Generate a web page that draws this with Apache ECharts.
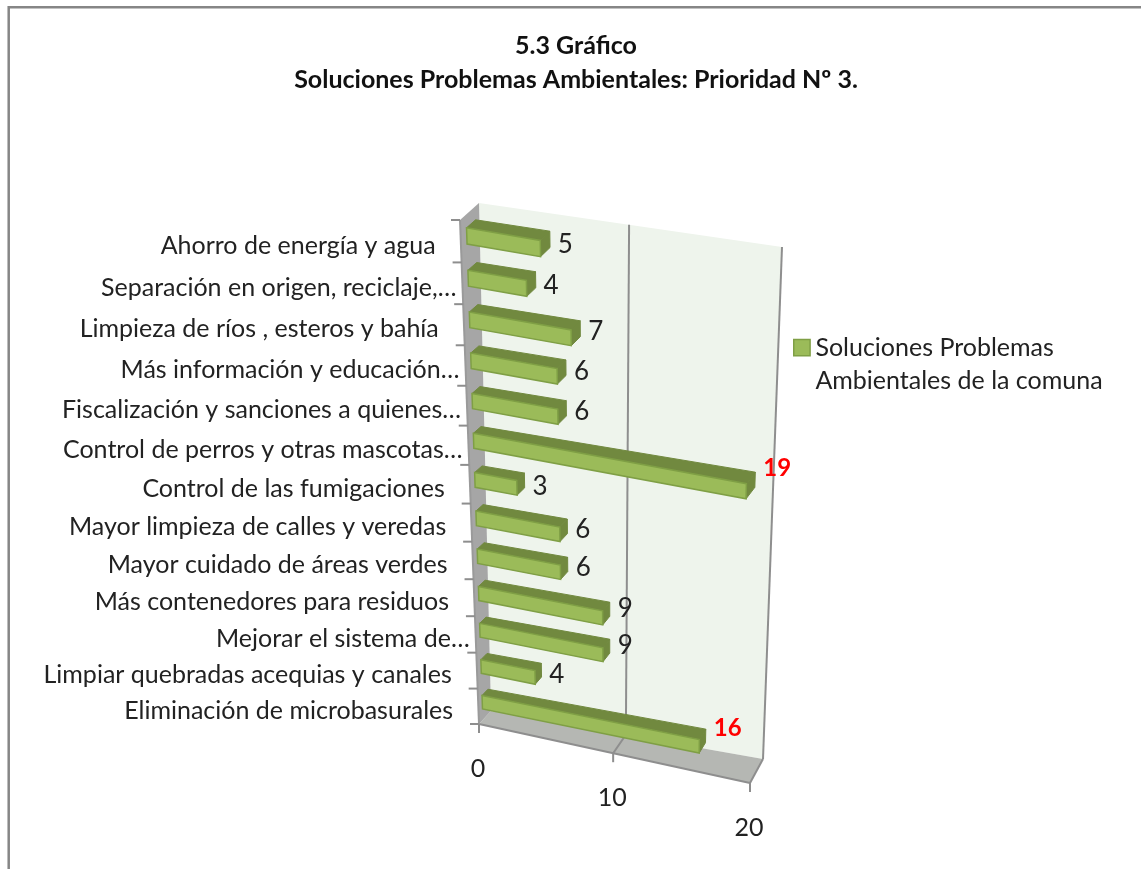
<!DOCTYPE html>
<html><head><meta charset="utf-8">
<style>html,body{margin:0;padding:0;background:#fff}#c{width:1141px;height:869px}</style>
<script src="https://cdn.jsdelivr.net/npm/echarts@6/dist/echarts.min.js"></script>
</head><body><div id="c"></div>
<script>
const categories = [
 "Ahorro de energía y agua   ","Separación en origen, reciclaje,…","Limpieza de ríos , esteros y bahía   ",
 "Más información y educación…","Fiscalización y sanciones a quienes…","Control de perros y otras mascotas…",
 "Control de las fumigaciones   ","Mayor limpieza de calles y veredas   ","Mayor cuidado de áreas verdes   ",
 "Más contenedores para residuos   ","Mejorar el sistema de…","Limpiar quebradas acequias y canales   ","Eliminación de microbasurales   "];
const values = [5,4,7,6,6,19,3,6,6,9,9,4,16];
const valueTicks = [0,10,20];
const highlightAbove = 10;
const seriesName = "Soluciones Problemas\nAmbientales de la comuna";
const titleText = "5.3 Gráfico\nSoluciones Problemas Ambientales: Prioridad Nº 3.";

// perspective frame: front and back planes of the 3D box
const FRONT = [[460,220],[759,274],[750,783],[479,724]];
const BACK  = [[479,203],[782,247],[763,759],[491,711]];
function homography(q){
  const [[x0,y0],[x1,y1],[x2,y2],[x3,y3]] = q;
  const dx1=x1-x2,dx2=x3-x2,sx=x0-x1+x2-x3,dy1=y1-y2,dy2=y3-y2,sy=y0-y1+y2-y3;
  const den=dx1*dy2-dx2*dy1;
  const g=(sx*dy2-dx2*sy)/den,h=(dx1*sy-sx*dy1)/den;
  return (u,v)=>{const w=g*u+h*v+1;
    return [((x1-x0+g*x1)*u+(x3-x0+h*x3)*v+x0)/w,((y1-y0+g*y1)*u+(y3-y0+h*y3)*v+y0)/w];};
}
const hF=homography(FRONT),hB=homography(BACK);
function mapper(params){
  const r=params.coordSys;
  return (g,d)=>{const u=(g[0]-r.x)/r.width,v=(g[1]-r.y)/r.height;
    const a=hF(u,v),b=hB(u,v);return [a[0]+(b[0]-a[0])*d,a[1]+(b[1]-a[1])*d];};
}
const poly=(pts,fill,stroke,lw)=>({type:'polygon',shape:{points:pts},style:{fill:fill,stroke:stroke||null,lineWidth:lw||0}});
const line=(a,b,stroke,lw)=>({type:'line',shape:{x1:a[0],y1:a[1],x2:b[0],y2:b[1]},style:{stroke:stroke,lineWidth:lw}});
const FONT='Lato';
const GRAY='#8e8e8e';

function renderFrame(params,api){
  const P=mapper(params),r=params.coordSys;
  const x0=api.coord([valueTicks[0],0])[0],x2=api.coord([valueTicks[2],0])[0];
  const T=r.y,B=r.y+r.height,kids=[];
  kids.push(poly([P([x0,T],1),P([x2,T],1),P([x2,B],1),P([x0,B],1)],'#eef4ec'));
  kids.push(poly([P([x0,B],0),P([x2,B],0),P([x2,B],1),P([x0,B],1)],'#b5b7b3'));
  kids.push(poly([P([x0,T],0),P([x0,T],1),P([x0,B],1),P([x0,B],0)],'#a6a6a6'));
  valueTicks.forEach((t,i)=>{
    const x=api.coord([t,0])[0];
    if(i>0){kids.push(line(P([x,T],1),P([x,B],1),GRAY,2));
            kids.push(line(P([x,B],1),P([x,B],0),GRAY,2));}
    const f=P([x,B],0);
    kids.push(line(f,[f[0],f[1]+9],GRAY,2));
    kids.push({type:'text',style:{text:String(t),x:f[0]-1,y:f[1]+45,fill:'#222',font:'25px '+FONT,align:'center',verticalAlign:'middle'}});
  });
  kids.push(line(P([x0,B],0),P([x2,B],0),GRAY,2));
  kids.push(line(P([x0,T],0),P([x0,B],0),'#9a9a9a',2));
  const band=r.height/categories.length;
  for(let i=0;i<=categories.length;i++){
    const f=P([x0,T+i*band],0);
    kids.push(line([f[0]-9,f[1]],f,GRAY,2));
  }
  categories.forEach((c,i)=>{
    const f=P([x0,T+(i+.5)*band],0);
    kids.push({type:'text',style:{text:c,x:f[0]-6,y:f[1]+4.5,fill:'#222',font:'25px '+FONT,align:'right',verticalAlign:'middle'}});
  });
  return {type:'group',children:kids};
}
const D1=0.32,D2=0.80,TH=0.19;
function renderBar(params,api){
  const P=mapper(params);
  const v=api.value(0),i=api.value(1);
  const c0=api.coord([0,i]),c1=api.coord([v,i]);
  const h=api.size([0,1])[1]*TH;
  const A=(x,y,d)=>P([x,y],d);
  const xa=c0[0],xb=c1[0],yt=c0[1]-h,yb=c0[1]+h;
  const FILL=api.visual('color'),DARK='#71893f',EDGE='#7f9f45';
  const tip=A(xb,yt,D2);
  const e1=A(xb,yt,D1),e2=A(xb,yb,D1);
  const mid=[(e1[0]+e2[0])/2,(e1[1]+e2[1])/2];
  const hot=v>highlightAbove;
  return {type:'group',children:[
    poly([A(xa,yt,D1),A(xb,yt,D1),A(xb,yt,D2),A(xa,yt,D2)],DARK,DARK,1),
    poly([A(xb,yt,D1),A(xb,yt,D2),A(xb,yb,D2),A(xb,yb,D1)],DARK,DARK,1),
    poly([A(xa,yt,D1),A(xb,yt,D1),A(xb,yb,D1),A(xa,yb,D1)],FILL,EDGE,1.5),
    {type:'text',z2:10,style:{text:String(v),x:tip[0]+8,y:mid[1]+(4.5-v)*1.35-3,
      fill:hot?'#ff0000':'#222',font:(hot?'bold 24px ':'26px ')+FONT,align:'left',verticalAlign:'middle'}}
  ]};
}
const chart=echarts.init(document.getElementById('c'),null,{renderer:'canvas'});
chart.setOption({
  animation:false,
  backgroundColor:'#fff',
  title:{text:titleText,left:571,textAlign:'center',top:24,
    textStyle:{fontFamily:FONT,fontWeight:'bold',fontSize:25,lineHeight:34,color:'#111'}},
  grid:{left:460,top:220,width:300,height:504,containLabel:false},
  xAxis:{type:'value',min:valueTicks[0],max:valueTicks[2],interval:10,show:false},
  yAxis:{type:'category',data:categories,inverse:true,show:false},
  legend:{data:[seriesName],left:788,top:326,orient:'vertical',itemWidth:17,itemHeight:49,itemGap:0,
    icon:'path://M0,0H16V16H0Z M16,48 L16,48Z',
    textStyle:{fontFamily:FONT,fontSize:25,lineHeight:33,color:'#222'},
    itemStyle:{borderColor:'#7f9f45',borderWidth:1.5}},
  graphic:[{type:'polyline',silent:true,shape:{points:[[8.7,869],[8.7,7.2],[1141,7.2]]},style:{stroke:'#868686',fill:null,lineWidth:2.5}}],
  series:[
    {type:'custom',name:'frame',coordinateSystem:'cartesian2d',data:[[0,0]],renderItem:renderFrame,silent:true,z:1},
    {type:'custom',name:seriesName,coordinateSystem:'cartesian2d',itemStyle:{color:'#9bbb59'},
     encode:{x:0,y:1},data:values.map((v,i)=>[v,i]),renderItem:renderBar,silent:true,z:2}
  ]
});
</script></body></html>
